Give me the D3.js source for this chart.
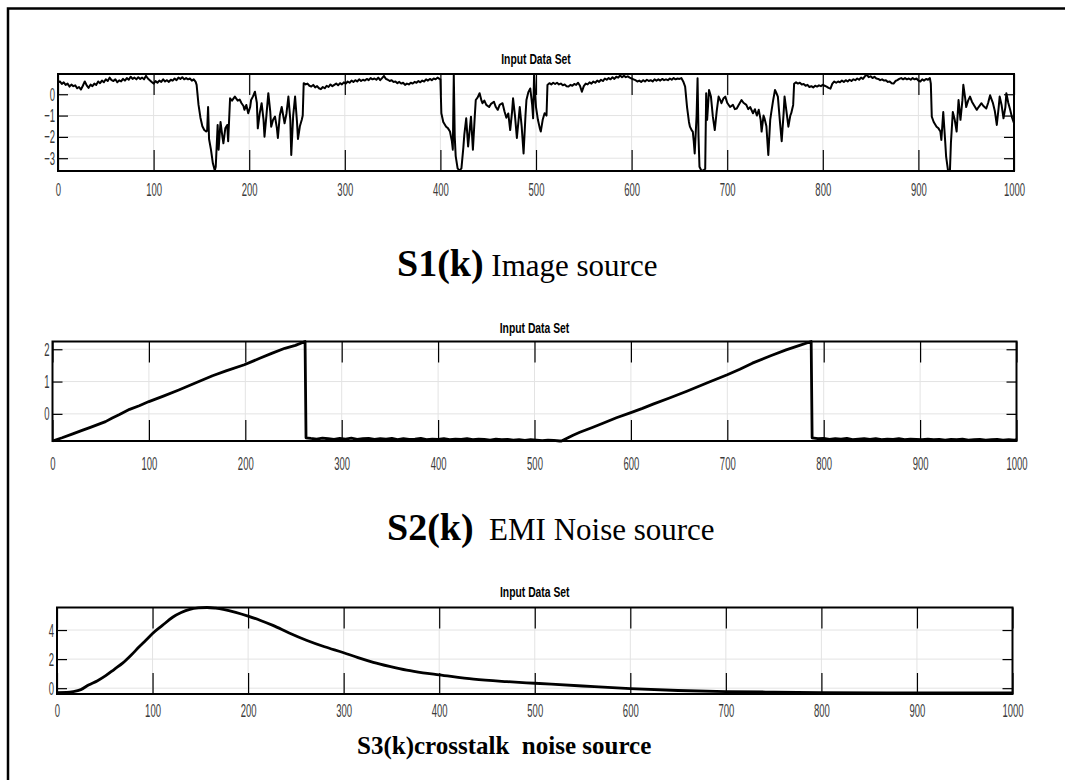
<!DOCTYPE html>
<html>
<head>
<meta charset="utf-8">
<script src="https://cdn.jsdelivr.net/npm/d3@7"></script>
<style>
  html, body { margin: 0; padding: 0; background: #fff; }
  svg { display: block; }
  .caption { white-space: pre; }
</style>
</head>
<body>
<script>
// ---- Sample index axis ----
const xTickValues = [0, 100, 200, 300, 400, 500, 600, 700, 800, 900, 1000];

// ---- S1(k): image source, [sample, amplitude] ----
const s1Data = [
  [0,0.55],[2,0.6],[4,0.48],[6,0.56],[8,0.44],[10,0.5],[12,0.36],[14,0.45],[16,0.38],[18,0.42],[20,0.28],[22,0.34],[24,0.22],[26,0.4],[28,0.6],[30,0.42],[32,0.3],[34,0.45],[36,0.38],[38,0.5],
  [40,0.44],[42,0.6],[44,0.52],[46,0.64],[48,0.56],[50,0.7],[52,0.62],[54,0.78],[56,0.66],[58,0.62],[60,0.7],[62,0.56],[64,0.65],[66,0.6],[68,0.72],[70,0.64],[72,0.76],[74,0.68],[76,0.82],[78,0.72],
  [80,0.78],[82,0.7],[84,0.8],[86,0.72],[88,0.78],[90,0.7],[92,0.86],[94,0.74],[96,0.66],[98,0.58],[100,0.5],[102,0.62],[104,0.54],[106,0.64],[108,0.58],[110,0.7],[112,0.6],[114,0.66],[116,0.58],[118,0.68],
  [120,0.64],[122,0.74],[124,0.66],[126,0.78],[128,0.72],[130,0.8],[132,0.7],[134,0.76],[136,0.7],[138,0.74],[140,0.64],[142,0.7],[144,0.58],[145,0.44],
  [147,-0.5],[149,-1.1],[151,-1.5],[153,-1.68],[155,-1.75],[156,-1.7],[157,-0.6],[158,-2.1],[160,-2.6],[162,-3.24],[164,-3.58],[165,-3.4],[167,-1.44],[168,-2.6],[170,-1.3],[172,-2.0],[173,-2.3],[175,-1.6],[177,-1.44],[178,-2.2],
  [180,-0.19],[182,-0.3],[185,-0.11],[188,-0.3],[190,-0.25],[192,-0.42],[194,-0.55],[195,-0.73],[197,-0.5],[199,-0.89],[201,-0.6],[202,-0.27],[204,-0.1],[206,0.12],[208,-0.4],[209,-1.6],[211,-0.9],[213,-0.42],[215,-1.2],[216,-1.99],
  [218,-1.0],[220,0.05],[222,-0.8],[223,-1.52],[225,-1.2],[227,-1.05],[229,-1.6],[230,-2.05],[232,-1.0],[234,-0.6],[236,-1.1],[237,-1.36],[239,-0.9],[241,-0.11],[243,-1.2],[244,-2.85],[246,-1.0],[248,-0.11],[250,-1.3],[251,-2.1],
  [253,-1.5],[255,-1.2],[256,-1.0],
  [257,0.52],[259,0.46],[261,0.5],[263,0.4],[265,0.36],[267,0.44],[269,0.32],[271,0.38],[273,0.28],[275,0.24],[277,0.34],[279,0.28],[281,0.4],[283,0.34],[285,0.46],[287,0.38],[289,0.44],[291,0.5],[293,0.42],[295,0.52],
  [297,0.46],[299,0.56],[301,0.5],[303,0.6],[305,0.54],[307,0.64],[309,0.58],[311,0.66],[313,0.6],[315,0.7],[317,0.62],[319,0.68],[321,0.64],[323,0.72],[325,0.66],[327,0.76],[329,0.7],[331,0.74],[333,0.68],[335,0.78],
  [337,0.66],[339,0.76],[341,0.86],[343,0.72],[345,0.68],[347,0.62],[349,0.66],[351,0.58],[353,0.6],[355,0.52],[357,0.58],[359,0.5],[361,0.54],[363,0.44],[365,0.5],[367,0.46],[369,0.54],[371,0.5],[373,0.58],[375,0.54],
  [377,0.62],[379,0.56],[381,0.64],[383,0.6],[385,0.7],[387,0.64],[389,0.72],[391,0.66],[393,0.74],[395,0.7],[397,0.78],[399,0.72],[400,0.7],
  [401,-0.89],[403,-1.3],[406,-1.52],[408,-1.6],[410,-1.75],[412,-2.2],[413,-2.6],[414,0.92],[415,-2.0],[416,-2.9],[418,-3.48],[420,-3.58],[422,-3.48],[424,-2.5],[425,-1.9],[427,-1.13],[429,-2.45],[431,-1.5],[432,-1.05],[434,-2.6],
  [436,-1.0],[437,-0.27],[439,-0.15],[441,0.05],[443,-0.3],[444,-0.42],[446,-0.3],[448,-0.5],[451,-0.6],[453,-0.45],[456,-0.35],[458,-0.6],[460,-0.73],[462,-0.5],[465,-0.42],[467,-0.8],[469,-1.1],[471,-0.9],[473,-1.68],[475,-0.8],
  [476,-0.19],[478,-1.0],[480,-2.05],[482,-1.1],[483,-0.6],[485,-1.5],[487,-2.78],[489,-1.0],[490,-0.27],[492,0.1],[494,0.27],[496,-0.5],[497,-1.13],[498,0.92],[500,-0.6],[502,-1.2],[504,-1.6],[505,-1.75],[507,-1.2],[509,-0.89],
  [511,-1.0],
  [512,0.44],[514,0.52],[516,0.46],[518,0.54],[520,0.48],[522,0.54],[524,0.46],[526,0.5],[528,0.42],[530,0.46],[532,0.38],[534,0.36],[536,0.44],[538,0.4],[540,0.48],[542,0.44],[544,0.54],[546,0.4],[548,0.12],[550,0.38],
  [552,0.5],[554,0.46],[556,0.56],[558,0.5],[560,0.6],[562,0.54],[564,0.64],[566,0.58],[568,0.68],[570,0.62],[572,0.74],[574,0.68],[576,0.76],[578,0.7],[580,0.8],[582,0.72],[584,0.82],[586,0.78],[588,0.88],[590,0.8],
  [592,0.86],[594,0.8],[596,0.84],[598,0.78],[600,0.74],[602,0.7],[604,0.66],[606,0.6],[608,0.64],[610,0.58],[612,0.66],[614,0.6],[616,0.68],[618,0.62],[620,0.66],[622,0.6],[624,0.7],[626,0.64],[628,0.7],[630,0.64],
  [632,0.72],[634,0.66],[636,0.7],[638,0.66],[640,0.74],[642,0.68],[644,0.76],[646,0.7],[648,0.74],[650,0.72],[652,0.76],[654,0.6],[656,0.36],
  [658,-0.6],[660,-1.3],[661,-1.52],[663,-1.7],[664,-1.75],[665,-2.2],[666,-2.78],[668,-1.0],[669,0.75],[670,-2.0],[671,-3.4],[673,-3.58],[675,-3.58],[677,-3.5],[678,0.05],[679,-1.2],[680,-0.5],[681,0.2],[683,-0.11],[685,-1.05],
  [687,-1.68],[689,-0.8],[691,-0.11],[693,-0.3],[694,-0.42],[696,-0.2],[698,-0.11],[700,-0.4],[703,-0.6],[706,-0.5],[708,-0.7],[710,-0.67],[712,-0.5],[715,-0.27],[717,-0.4],[720,-0.5],[722,-0.7],[724,-0.6],[727,-0.89],[729,-0.7],
  [731,-1.0],[733,-0.73],[735,-1.2],[736,-1.75],[738,-1.0],[739,-1.13],[741,-1.5],[743,-2.85],[745,-1.2],[746,-0.89],[748,-0.3],[750,0.2],[752,0.0],[753,-0.11],[755,-1.2],[757,-2.2],[759,-0.9],[760,-0.11],[762,-0.8],[764,-1.52],
  [766,-1.0],[767,-0.89],[769,-0.5],
  [770,0.49],[772,0.56],[774,0.5],[776,0.54],[778,0.46],[780,0.48],[782,0.4],[784,0.44],[786,0.34],[788,0.38],[790,0.32],[792,0.4],[794,0.36],[796,0.42],[798,0.38],[800,0.44],[802,0.4],[804,0.36],[806,0.3],[808,0.26],
  [810,0.5],[812,0.6],[814,0.54],[816,0.6],[818,0.56],[820,0.64],[822,0.58],[824,0.66],[826,0.6],[828,0.68],[830,0.62],[832,0.7],[834,0.66],[836,0.74],[838,0.68],[840,0.78],[842,0.72],[844,0.84],[846,0.92],[848,0.8],
  [850,0.84],[852,0.76],[854,0.82],[856,0.74],[858,0.72],[860,0.66],[862,0.7],[864,0.64],[866,0.66],[868,0.58],[870,0.6],[872,0.52],[874,0.5],[876,0.62],[878,0.66],[880,0.72],[882,0.76],[884,0.7],[886,0.76],[888,0.7],
  [890,0.74],[892,0.68],[894,0.76],[896,0.7],[898,0.74],[900,0.64],[902,0.6],[904,0.7],[906,0.64],[908,0.72],[910,0.68],[912,0.76],[913,0.5],
  [914,-1.05],[916,-1.3],[919,-1.52],[921,-1.6],[923,-1.75],[924,-2.14],[926,-0.83],[928,-2.2],[929,-2.93],[931,-3.58],[933,-3.58],[934,-2.3],[936,-0.83],[938,-1.2],[940,-1.75],[942,-0.27],[944,-1.2],[946,-0.3],[947,0.44],[949,-0.2],
  [950,-0.6],[952,-0.3],[954,-0.11],[956,-0.35],[958,-0.5],[961,-0.73],[963,-0.6],[966,-0.42],[968,-0.55],[971,-0.67],[973,-0.4],[975,-0.05],[977,-0.3],[978,-0.42],[980,-0.8],[982,-1.44],[984,-0.6],[985,-0.11],[987,-0.5],[989,-1.13],
  [991,-0.6],[992,0.05],[994,-0.4],[996,-0.73],[998,-1.1],[1000,-1.36]
];
const s1Ticks = [-3, -2, -1, 0];
const s1Domain = [-3.6, 0.95];

// ---- S2(k): EMI noise source, [sample, amplitude] ----
const s2Data = [
  [0,-0.84],[10,-0.74],[21,-0.62],[30,-0.52],[40,-0.41],[55,-0.24],[62,-0.13],[69,-0.03],[80,0.14],[90,0.25],[100,0.38],[115,0.55],[131,0.74],[150,0.98],[166,1.18],[180,1.33],[199,1.52],[215,1.72],[228,1.88],[241,2.03],[252,2.12],[262,2.24],
  [263,-0.74],[268,-0.76],[274,-0.78],[280,-0.75],[286,-0.77],[292,-0.79],[298,-0.76],[304,-0.78],[310,-0.75],[316,-0.79],[322,-0.77],[328,-0.76],[334,-0.79],[340,-0.77],[346,-0.78],[352,-0.76],[358,-0.8],[364,-0.77],[370,-0.79],
  [376,-0.78],[382,-0.76],[388,-0.8],[394,-0.78],[400,-0.79],[406,-0.77],[412,-0.8],[418,-0.78],[424,-0.79],[430,-0.77],[436,-0.8],[442,-0.78],[448,-0.79],[454,-0.81],[460,-0.78],[466,-0.8],[472,-0.79],[478,-0.81],[484,-0.8],
  [490,-0.82],[496,-0.8],[502,-0.81],[508,-0.83],[514,-0.81],[520,-0.82],[526,-0.84],
  [528,-0.84],[540,-0.66],[547,-0.57],[560,-0.42],[571,-0.29],[585,-0.12],[600,0.04],[612,0.17],[623,0.3],[640,0.49],[658,0.7],[680,0.97],[700,1.21],[713,1.38],[726,1.57],[745,1.8],[761,1.98],[775,2.12],[787,2.24],
  [788,-0.74],[794,-0.77],[800,-0.76],[806,-0.79],[812,-0.77],[818,-0.78],[824,-0.76],[830,-0.8],[836,-0.78],[842,-0.77],[848,-0.79],[854,-0.77],[860,-0.8],[866,-0.78],[872,-0.79],[878,-0.77],[884,-0.8],[890,-0.78],[896,-0.79],
  [902,-0.8],[908,-0.78],[914,-0.8],[920,-0.79],[926,-0.81],[932,-0.79],[938,-0.8],[944,-0.78],[950,-0.81],[956,-0.8],[962,-0.79],[968,-0.81],[974,-0.8],[980,-0.79],[986,-0.81],[992,-0.8],[998,-0.81],[1000,-0.8]
];
const s2Ticks = [0, 1, 2];
const s2Domain = [-0.84, 2.24];

// ---- S3(k): crosstalk noise source, [sample, amplitude] ----
const s3Data = [
  [0,-0.3],[10,-0.29],[17,-0.24],[25,-0.1],[33,0.22],[42,0.5],[51,0.86],[60,1.3],[69,1.74],[78,2.3],[86,2.85],[93,3.3],[100,3.76],[110,4.3],[121,4.88],[130,5.2],[139,5.42],[148,5.52],[157,5.55],[166,5.5],
  [174,5.42],[187,5.22],[200,4.96],[213,4.66],[226,4.32],[243,3.8],[261,3.3],[280,2.85],[300,2.44],[315,2.1],[331,1.78],[348,1.5],[366,1.24],[383,1.06],[400,0.92],[436,0.62],[471,0.45],[500,0.34],[550,0.15],[600,-0.03],
  [650,-0.16],[700,-0.23],[750,-0.27],[800,-0.3],[900,-0.32],[1000,-0.33]
];
const s3Ticks = [0, 2, 4];
const s3Domain = [-0.4, 5.55];

// ---- Text ----
const panelTitle = "Input Data Set";
const captionBold = ["S1(k)", "S2(k)", "S3(k)crosstalk  noise source"];
const captionPlain = [" Image source", "  EMI Noise source", ""];

const W = 1065, H = 780;
const svg = d3.select("body").append("svg").attr("width", W).attr("height", H);

// outer frame (only its top and left edges fall inside the page)
svg.append("rect")
  .attr("x", 8).attr("y", 8.5).attr("width", W + 20).attr("height", H + 20)
  .attr("fill", "none").attr("stroke", "#000").attr("stroke-width", 2.5);

const panels = [
  { data: s1Data, ticks: s1Ticks, domain: s1Domain, left: 58, right: 1014, top: 74, bottom: 171, titleY: 63.5, labelPad: 12, lw: 2, curve: d3.curveLinear,
    capX: 397, capY: 276, boldSize: 38, plainSize: 31 },
  { data: s2Data, ticks: s2Ticks, domain: s2Domain, left: 52.5, right: 1016.5, top: 341.5, bottom: 441, titleY: 332.5, labelPad: 15.5, lw: 2.8, curve: d3.curveLinear,
    capX: 387, capY: 540, boldSize: 38, plainSize: 31 },
  { data: s3Data, ticks: s3Ticks, domain: s3Domain, left: 57, right: 1012.5, top: 607.5, bottom: 694, titleY: 596.5, labelPad: 9.5, lw: 2.8, curve: d3.curveMonotoneX,
    capX: 357, capY: 754, boldSize: 25, plainSize: 25 }
];

const labelScale = 0.5;    // condensed tick labels
const titleScale = 0.74;   // condensed panel title

panels.forEach((p, i) => {
  const x = d3.scaleLinear().domain([0, 1000]).range([p.left, p.right]);
  const y = d3.scaleLinear().domain(p.domain).range([p.bottom, p.top]);
  const g = svg.append("g");

  // grid
  g.append("g").selectAll("line").data(xTickValues.slice(1, -1)).join("line")
    .attr("x1", d => x(d)).attr("x2", d => x(d)).attr("y1", p.top).attr("y2", p.bottom)
    .attr("stroke", "#e3e3e3").attr("stroke-width", 1);
  g.append("g").selectAll("line").data(p.ticks).join("line")
    .attr("x1", p.left).attr("x2", p.right).attr("y1", d => y(d)).attr("y2", d => y(d))
    .attr("stroke", "#e3e3e3").attr("stroke-width", 1);

  // data trace
  const line = d3.line().x(d => x(d[0])).y(d => y(d[1])).curve(p.curve);
  g.append("path")
    .datum(p.data)
    .attr("d", line)
    .attr("fill", "none").attr("stroke", "#000").attr("stroke-width", p.lw)
    .attr("stroke-linejoin", "round");

  // inward ticks on all four sides
  const bottomAxis = d3.axisBottom(x).tickValues(xTickValues).tickSizeInner(-21).tickSizeOuter(0).tickPadding(p.labelPad).tickFormat(d3.format("d"));
  const topAxis = d3.axisTop(x).tickValues(xTickValues).tickSizeInner(-21).tickSizeOuter(0).tickFormat("");
  const leftAxis = d3.axisLeft(y).tickValues(p.ticks).tickSizeInner(-10).tickSizeOuter(0).tickPadding(3).tickFormat(d3.format("d"));
  const rightAxis = d3.axisRight(y).tickValues(p.ticks).tickSizeInner(-10).tickSizeOuter(0).tickFormat("");

  const axes = [
    g.append("g").attr("transform", `translate(0,${p.bottom})`).call(bottomAxis),
    g.append("g").attr("transform", `translate(0,${p.top})`).call(topAxis),
    g.append("g").attr("transform", `translate(${p.left},0)`).call(leftAxis),
    g.append("g").attr("transform", `translate(${p.right},0)`).call(rightAxis)
  ];
  axes.forEach(a => {
    a.select(".domain").remove();
    a.selectAll(".tick line").attr("stroke", "#000").attr("stroke-width", 1.2);
    a.selectAll(".tick text")
      .attr("fill", "#3a3a3a")
      .attr("font-family", "'Liberation Sans', Arial, sans-serif")
      .attr("font-size", 19);
  });
  // condense labels horizontally
  axes[0].selectAll(".tick text").attr("transform", `scale(${labelScale},1)`);
  axes[2].selectAll(".tick text")
    .attr("x", -3 / labelScale)
    .attr("transform", `scale(${labelScale},1)`);

  // box
  g.append("rect")
    .attr("x", p.left).attr("y", p.top).attr("width", p.right - p.left).attr("height", p.bottom - p.top)
    .attr("fill", "none").attr("stroke", "#000").attr("stroke-width", 2);

  // panel title
  g.append("text")
    .attr("transform", `translate(${(p.left + p.right) / 2},${p.titleY}) scale(${titleScale},1)`)
    .attr("text-anchor", "middle")
    .attr("font-family", "'Liberation Sans', Arial, sans-serif")
    .attr("font-weight", "bold").attr("font-size", 14)
    .text(panelTitle);

  // caption under the panel
  const cap = svg.append("text").attr("class", "caption")
    .attr("x", p.capX).attr("y", p.capY)
    .attr("font-family", "'Liberation Serif', 'Times New Roman', serif")
    .attr("xml:space", "preserve");
  cap.append("tspan").attr("font-weight", "bold").attr("font-size", p.boldSize).text(captionBold[i]);
  if (captionPlain[i]) cap.append("tspan").attr("font-size", p.plainSize).text(captionPlain[i]);
});
</script>
</body>
</html>
